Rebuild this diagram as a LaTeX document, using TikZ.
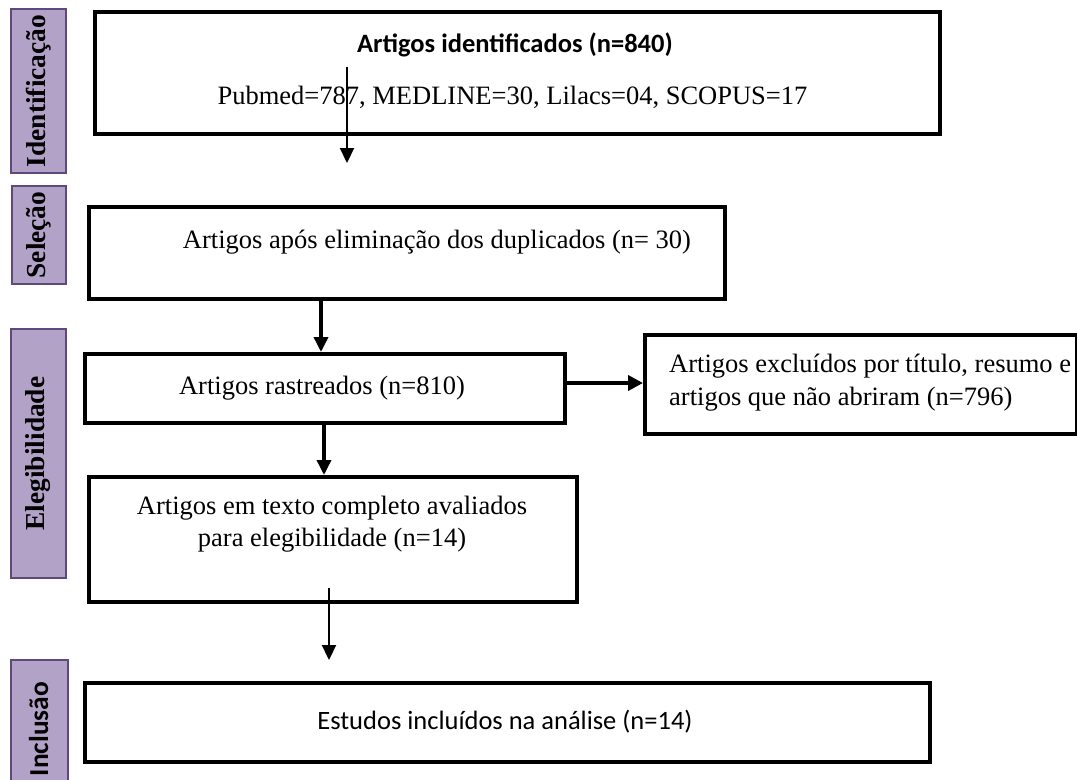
\documentclass[tikz,border=0pt]{standalone}
\usepackage{fontspec}
\setmainfont{Liberation Serif}
\newfontfamily\calib{Carlito}
\usetikzlibrary{arrows.meta,calc}
\definecolor{phasefill}{HTML}{B3A2C7}
\definecolor{phaseborder}{HTML}{5F497A}
\begin{document}
\begin{tikzpicture}[x=1bp,y=-1bp,
  mainbox/.style={draw=black, line width=4bp, fill=white, anchor=north west, inner sep=0pt},
  phase/.style={draw=phaseborder, line width=2bp, fill=phasefill, anchor=north west, inner sep=0pt},
  txt/.style={font=\fontsize{26.6}{32}\selectfont, inner sep=0pt},
  sanstxt/.style={font=\calib\fontsize{26.6}{32}\selectfont, inner sep=0pt},
  phtxt/.style={font=\bfseries\fontsize{27.5}{32}\selectfont, inner sep=0pt, rotate=90},
  thinarrow/.style={line width=2.2bp, -{Triangle[length=15bp,width=14bp]}},
  thickarrow/.style={line width=3.5bp, -{Triangle[length=15bp,width=14bp]}},
  widearrow/.style={line width=4.5bp, -{Triangle[length=15bp,width=15bp]}}
]
\useasboundingbox (0,0) rectangle (1077,780);
% phase labels
\node[phase, minimum width=55bp, minimum height=164bp] (p1) at (10,8) {};
\node[phtxt] at (p1.center) {Identificação};
\node[phase, minimum width=54bp, minimum height=98bp] (p2) at (11,185) {};
\node[phtxt] at (p2.center) {Seleção};
\node[phase, minimum width=55bp, minimum height=249bp] (p3) at (10,328) {};
\node[phtxt] at (p3.center) {Elegibilidade};
\node[phase, minimum width=57bp, minimum height=130bp] (p4) at (10,659) {};
\node[phtxt, font=\calib\bfseries\fontsize{27.5}{32}\selectfont] at (38.5,729) {Inclusão};
% main boxes
\node[mainbox, minimum width=845bp, minimum height=122bp] (b1) at (93,10) {};
\node[sanstxt, font=\calib\bfseries\fontsize{26.6}{32}\selectfont] (t1a) at (515,45) {Artigos identificados (n=840)};
\node[txt] (t1b) at (512.5,97) {Pubmed=787, MEDLINE=30, Lilacs=04, SCOPUS=17};
\node[mainbox, minimum width=636bp, minimum height=92bp] (b2) at (87,205) {};
\node[txt] (t2) at (437,242) {Artigos após eliminação dos duplicados (n= 30)};
\node[mainbox, minimum width=480bp, minimum height=69bp] (b3) at (83,352) {};
\node[txt] (t3) at (322,388) {Artigos rastreados (n=810)};
\node[mainbox, minimum width=432bp, minimum height=99bp] (ex) at (643,333) {};
\node[txt, anchor=west] (tex1) at (669,366) {Artigos excluídos por título, resumo e};
\node[txt, anchor=west] (tex2) at (669,399) {artigos que não abriram (n=796)};
\node[mainbox, minimum width=488bp, minimum height=125bp] (b4) at (87,475) {};
\node[txt, align=center] (t4) at (332,524) {Artigos em texto completo avaliados\\para elegibilidade (n=14)};
\node[mainbox, minimum width=845bp, minimum height=79bp] (b5) at (83,681) {};
\node[sanstxt] (t5) at (505,722) {Estudos incluídos na análise (n=14)};
% connectors
\coordinate (a1s) at (347,67);
\coordinate (a1e) at (347,163);
\draw[thinarrow] (a1s) -- (a1e);
\coordinate (a2) at (321,0);
\draw[thickarrow] (b2.south -| a2) -- (b3.north -| a2);
\coordinate (ar) at (0,383);
\draw[widearrow] (b3.east |- ar) -- (ex.west |- ar);
\coordinate (a3) at (324,0);
\draw[thickarrow] (b3.south -| a3) -- (b4.north -| a3);
\coordinate (a4s) at (329,588);
\coordinate (a4e) at (329,660);
\draw[thinarrow] (a4s) -- (a4e);
\end{tikzpicture}
\end{document}
